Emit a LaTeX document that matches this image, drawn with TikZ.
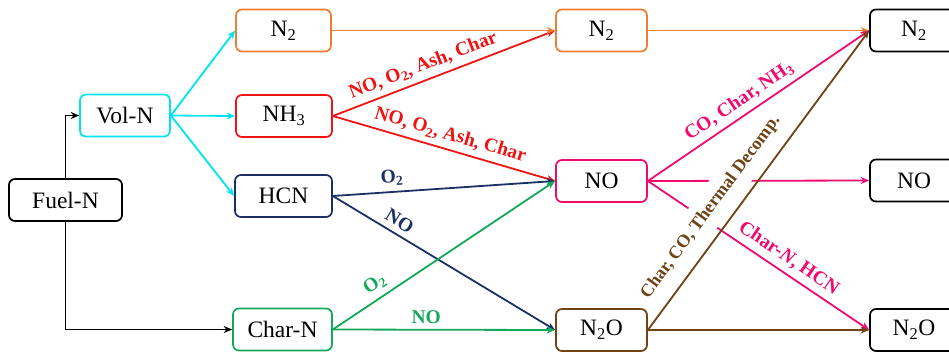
\documentclass[tikz,border=0pt]{standalone}
\usepackage{fontspec}
\setmainfont{Liberation Serif}
\usetikzlibrary{arrows.meta}

\definecolor{cyanln}{RGB}{0,228,240}
\definecolor{orangeln}{RGB}{237,125,49}
\definecolor{redln}{RGB}{238,20,20}
\definecolor{navyln}{RGB}{28,48,100}
\definecolor{greenln}{RGB}{20,168,90}
\definecolor{pinkln}{RGB}{240,10,110}
\definecolor{brownln}{RGB}{112,66,20}

\tikzset{
  species/.style={draw, rounded corners=6pt, line width=1.7pt, minimum height=42pt,
    inner sep=0pt, fill=white, font=\fontsize{23.5}{25}\selectfont},
  flow/.style={line width=1.8pt, -{Stealth[length=8.5pt,width=7pt]}},
  lbl/.style={font=\fontsize{19.5}{21}\selectfont\bfseries, inner sep=1.5pt, sloped, above=4pt},
}

\begin{document}
\begin{tikzpicture}[x=1pt,y=-1pt]
\useasboundingbox (0,0) rectangle (949,354);

% species boxes
\node[species, draw=black,    minimum width=113pt] (fuel)  at (65.5,200)   {Fuel-N};
\node[species, draw=cyanln,   minimum width=90pt]  (vol)   at (125,115.5)  {Vol-N};
\node[species, draw=orangeln, minimum width=95pt]  (n2a)   at (283.5,30.5) {N\textsubscript{2}};
\node[species, draw=redln,    minimum width=96pt]  (nh3)   at (284,116)    {NH\textsubscript{3}};
\node[species, draw=navyln,   minimum width=97pt]  (hcn)   at (283.5,196)  {HCN};
\node[species, draw=greenln,  minimum width=99pt]  (charn) at (282.5,329.5){Char-N};
\node[species, draw=orangeln, minimum width=91pt]  (n2b)   at (601.5,30.5) {N\textsubscript{2}};
\node[species, draw=pinkln,   minimum width=91pt]  (nob)   at (601.5,181)  {NO};
\node[species, draw=brownln,  minimum width=91pt]  (n2ob)  at (601.5,330)  {N\textsubscript{2}O};
\node[species, draw=black,    minimum width=88pt]  (n2c)   at (914,30.5)   {N\textsubscript{2}};
\node[species, draw=black,    minimum width=88pt]  (noc)   at (914,180.5)  {NO};
\node[species, draw=black,    minimum width=88pt]  (n2oc)  at (914,330)    {N\textsubscript{2}O};

% fuel nitrogen split
\draw[flow, black] (fuel.north) |- (vol.west);
\draw[flow, black] (fuel.south) |- (charn.west);

% volatile nitrogen
\draw[flow, cyanln] (vol.east) -- (n2a.west);
\draw[flow, cyanln] (vol.east) -- (nh3.west);
\draw[flow, cyanln] (vol.east) -- (hcn.west);

% NH3 routes
\draw[flow, redln] (nh3.east) -- (n2b.west)
  node[lbl, pos=0.43, text=redln] {NO, O\textsubscript{2}, Ash, Char};
\draw[flow, redln] (nh3.east) -- (nob.west)
  node[lbl, pos=0.51, text=redln] {NO, O\textsubscript{2}, Ash, Char};

% HCN routes
\draw[flow, navyln] (hcn.east) -- (nob.west)
  node[lbl, pos=0.27, text=navyln] {O\textsubscript{2}};
\draw[flow, navyln] (hcn.east) -- (n2ob.west)
  node[lbl, pos=0.27, text=navyln] {NO};

% char nitrogen routes
\draw[flow, greenln] (charn.east) -- (nob.west)
  node[lbl, pos=0.225, text=greenln] {O\textsubscript{2}};
\draw[flow, greenln] (charn.east) -- (n2ob.west)
  node[lbl, pos=0.42, text=greenln] {NO};

% molecular nitrogen
\draw[flow, orangeln] (n2a.east) -- (n2b.west);
\draw[flow, orangeln] (n2b.east) -- (n2c.west);

% NO routes
\draw[flow, pinkln] (nob.east) -- (n2c.west)
  node[lbl, pos=0.45, text=pinkln] {CO, Char, NH\textsubscript{3}};
\draw[flow, pinkln] (nob.east) -- (noc.west);
\draw[flow, pinkln] (nob.east) -- (n2oc.west)
  node[lbl, pos=0.6, text=pinkln] {Char-\textit{N}, HCN};

% N2O routes (label box masks the lines behind it)
\path (n2ob.east) -- (n2c.west)
  node[lbl, pos=0.366, fill=white, inner ysep=9pt, above=1pt, text=brownln,
       font=\fontsize{18}{20}\selectfont\bfseries] {Char, CO, Thermal Decomp.};
\draw[flow, brownln] (n2ob.east) -- (n2c.west);
\draw[flow, brownln] (n2ob.east) -- (n2oc.west);
\end{tikzpicture}
\end{document}
